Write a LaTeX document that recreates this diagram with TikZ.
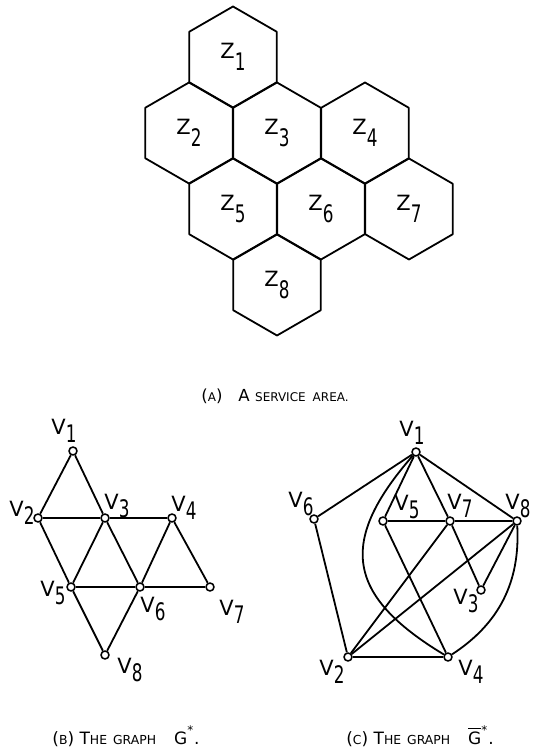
\documentclass[tikz,border=0pt]{standalone}
\usepackage{fontspec}
\setmainfont{DejaVu Sans}
\usepackage{graphicx}
\usetikzlibrary{shapes.geometric, positioning, calc}

% letter with a lowered, tall digit
\newcommand\sub[3][4pt]{#2\raisebox{-#1}{\scalebox{0.8}[1.15]{#3}}}
% fake small caps
\newcommand\smc[2][6.2]{{\fontsize{#1}{#1}\selectfont #2}}

\begin{document}
\begin{tikzpicture}[x=0.5pt, y=0.5pt, line join=round,
    hexcell/.style={draw, line width=0.9pt, regular polygon, regular polygon sides=6,
      shape border rotate=30, minimum size=50.5pt, inner sep=0pt, font=\fontsize{10.5}{10}\selectfont},
    vtx/.style={draw, circle, fill=white, line width=0.8pt, minimum size=4pt, inner sep=0pt},
    vlbl/.style={inner sep=0pt, font=\fontsize{10.5}{10}\selectfont},
    edge/.style={line width=0.9pt},
    caption/.style={inner sep=0pt, font=\fontsize{8.5}{9}\selectfont}]
  \useasboundingbox (0,0) rectangle (533,756);

  % (a) service area
  \foreach \n/\x/\y in {1/233/699, 2/189/623, 3/277/623, 4/365/623,
                        5/233/547, 6/321/547, 7/409/547, 8/277/471}
    \node[hexcell] (z\n) at (\x,\y) {\sub[6pt]{Z}{\n}};
  \node[caption, font=\fontsize{8.3}{9}\selectfont] (capA) at (275,360)
    {(\smc[6]{A})\hspace{8pt}A \smc[6]{SERVICE\hspace{3.5pt}AREA.}};

  % (b) the graph G*
  \node[vtx] (b1) at (73,305) {};
  \node[vtx] (b2) at (38,238) {};
  \node[vtx] (b3) at (105,238) {};
  \node[vtx] (b4) at (172,238) {};
  \node[vtx] (b5) at (71,169) {};
  \node[vtx] (b6) at (140,169) {};
  \node[vtx] (b7) at (210,169) {};
  \node[vtx] (b8) at (105,101) {};
  \foreach \a/\b in {1/2, 1/3, 2/3, 2/5, 3/4, 3/5, 3/6, 4/6, 4/7, 5/6, 5/8, 6/7, 6/8}
    \draw[edge] (b\a) -- (b\b);
  \foreach \i/\dx/\dy in {1/-9/20, 2/-16/5, 3/12/12, 4/12/10, 5/-18/-6, 6/13/-22, 7/22/-25, 8/25/-15}
    \node[vlbl] (lb\i) at ($(b\i)+(\dx,\dy)$) {\sub{V}{\i}};
  \node[caption] (capB) at (126,20)
    {(\smc{B}) T\smc{HE\hspace{3pt}GRAPH}\hspace{9pt}G\raisebox{2pt}{\textsuperscript{*}}.};

  % (c) the graph G* complement
  \node[vtx] (c1) at (416,304) {};
  \node[vtx] (c2) at (348,99) {};
  \node[vtx] (c3) at (481,166) {};
  \node[vtx] (c4) at (448,99) {};
  \node[vtx] (c5) at (383,235) {};
  \node[vtx] (c6) at (314,237) {};
  \node[vtx] (c7) at (450,235) {};
  \node[vtx] (c8) at (517,235) {};
  \foreach \a/\b in {1/5, 1/6, 1/7, 1/8, 2/4, 2/6, 2/7, 2/8, 3/7, 3/8, 4/5, 5/7, 7/8}
    \draw[edge] (c\a) -- (c\b);
  \draw[edge] (c1) to[bend right=50, looseness=1.45] (c4);
  \draw[edge] (c8) to[bend left=30] (c4);
  \foreach \i/\dx/\dy in {1/-4/19, 2/-16/-15, 3/-15/-11, 4/23/-15, 5/24/14, 6/-13/15, 7/10/15, 8/1/15}
    \node[vlbl] (lc\i) at ($(c\i)+(\dx,\dy)$) {\sub{V}{\i}};
  \node[caption] (capC) at (420,20)
    {(\smc{C}) T\smc{HE\hspace{3pt}GRAPH}\hspace{9pt}$\overline{\hbox{G}}$\raisebox{2pt}{\textsuperscript{*}}.};
\end{tikzpicture}
\end{document}
